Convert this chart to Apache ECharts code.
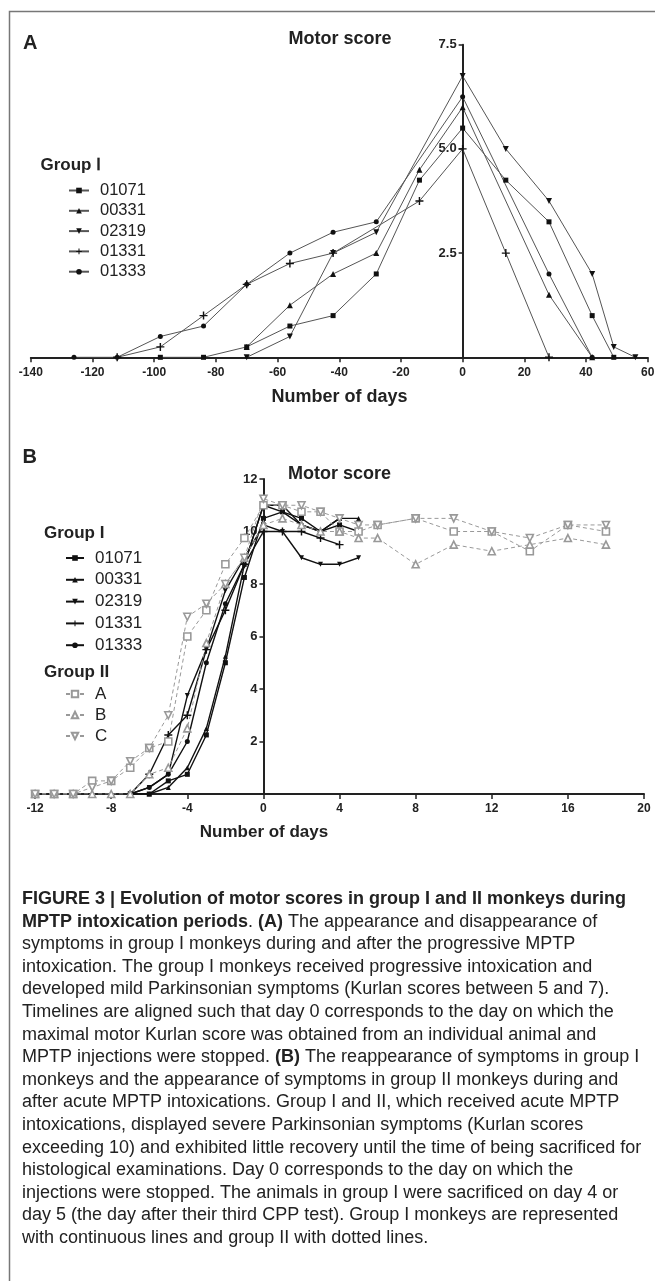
<!DOCTYPE html>
<html lang="en">
<head>
<meta charset="UTF-8">
<title>Motor score</title>
<script src="https://cdn.jsdelivr.net/npm/echarts@6/dist/echarts.min.js"></script>
<style>
  html, body { margin: 0; padding: 0; background: #fff; }
  #main { width: 655px; height: 1281px; }
</style>
</head>
<body>
<div id="main"></div>
<script>
// ---- panel A: progressive intoxication, group I (day 0 = max score)
const daysA_01071 = [-98, -84, -70, -56, -42, -28, -14, 0, 14, 28, 42, 49];
const scoreA_01071 = [0, 0, 0.25, 0.75, 1, 2, 4.25, 5.5, 4.25, 3.25, 1, 0];
const daysA_00331 = [-70, -56, -42, -28, -14, 0, 28, 42];
const scoreA_00331 = [0.25, 1.25, 2, 2.5, 4.5, 6, 1.5, 0];
const daysA_02319 = [-70, -56, -42, -28, 0, 14, 28, 42, 49, 56];
const scoreA_02319 = [0, 0.5, 2.5, 3, 6.75, 5, 3.75, 2, 0.25, 0];
const daysA_01331 = [-112, -98, -84, -70, -56, -42, -14, 0, 14, 28];
const scoreA_01331 = [0, 0.25, 1, 1.75, 2.25, 2.5, 3.75, 5, 2.5, 0];
const daysA_01333 = [-126, -112, -98, -84, -70, -56, -42, -28, 0, 28, 42];
const scoreA_01333 = [0, 0, 0.5, 0.75, 1.75, 2.5, 3, 3.25, 6.25, 2, 0];

// ---- panel B: acute intoxication (day 0 = last injection)
const daysB1 = [-7, -6, -5, -4, -3, -2, -1, 0, 1, 2, 3, 4, 5];
const daysB1short = [-7, -6, -5, -4, -3, -2, -1, 0, 1, 2, 3, 4];
const scoreB_01071 = [0, 0, 0.5, 0.75, 2.25, 5, 8.25, 10.5, 10.75, 10.5, 10, 10.25, 10];
const scoreB_00331 = [0, 0, 0.25, 1, 2.5, 5.25, 8.75, 11, 11, 10.25, 10, 10.5, 10.5];
const scoreB_02319 = [0, 0.25, 0.75, 3.75, 5.5, 7.75, 9, 10.25, 10, 9, 8.75, 8.75, 9];
const scoreB_01331 = [0, 0.75, 2.25, 3, 5.5, 7, 8.75, 10, 10, 10, 9.75, 9.5];
const scoreB_01333 = [0, 0.25, 0.75, 2, 5, 7.25, 8.75, 11, 10.75, 10.25, 10, 10.5];

const daysB2 = [-12, -11, -10, -9, -8, -7, -6, -5, -4, -3, -2, -1, 0, 1, 2, 3, 4, 5, 6, 8, 10, 12, 14, 16, 18];
const scoreB_A = [0, 0, 0, 0.5, 0.5, 1, 1.75, 2, 6, 7, 8.75, 9.75, 11, 11, 10.75, 10.75, 10, 10, 10.25, 10.5, 10, 10, 9.25, 10.25, 10];
const scoreB_B = [0, 0, 0, 0, 0, 0, 0.75, 1, 2.5, 5.75, 8, 9, 10.25, 10.5, 10.25, 10, 10, 9.75, 9.75, 8.75, 9.5, 9.25, 9.5, 9.75, 9.5];
const scoreB_C = [0, 0, 0, 0.25, 0.5, 1.25, 1.75, 3, 6.75, 7.25, 8, 9, 11.25, 11, 11, 10.75, 10.5, 10.25, 10.25, 10.5, 10.5, 10, 9.75, 10.25, 10.25];

const groupI = ['01071', '00331', '02319', '01331', '01333'];
const groupII = ['A', 'B', 'C'];

const captionLines = [
  '{b|FIGURE 3 | Evolution of motor scores in group I and II monkeys during}',
  '{b|MPTP intoxication periods}. {b|(A)} The appearance and disappearance of',
  'symptoms in group I monkeys during and after the progressive MPTP',
  'intoxication. The group I monkeys received progressive intoxication and',
  'developed mild Parkinsonian symptoms (Kurlan scores between 5 and 7).',
  'Timelines are aligned such that day 0 corresponds to the day on which the',
  'maximal motor Kurlan score was obtained from an individual animal and',
  'MPTP injections were stopped. {b|(B)} The reappearance of symptoms in group I',
  'monkeys and the appearance of symptoms in group II monkeys during and',
  'after acute MPTP intoxications. Group I and II, which received acute MPTP',
  'intoxications, displayed severe Parkinsonian symptoms (Kurlan scores',
  'exceeding 10) and exhibited little recovery until the time of being sacrificed for',
  'histological examinations. Day 0 corresponds to the day on which the',
  'injections were stopped. The animals in group I were sacrificed on day 4 or',
  'day 5 (the day after their third CPP test). Group I monkeys are represented',
  'with continuous lines and group II with dotted lines.'
];

const FONT = 'Liberation Sans, Arial, Helvetica, sans-serif';
const INK = '#222';
const TRI_DOWN = 'path://M0,0L10,0L5,10Z';
const CROSS = 'path://M4.1,0H5.9V4.1H10V5.9H5.9V10H4.1V5.9H0V4.1H4.1Z';

// grid boxes
const gridA = { left: 30.8, top: 44.7, width: 616.9, height: 312.6 };
const gridB = { left: 35.1, top: 479, width: 608.9, height: 315 };

function zip(xs, ys) {
  return xs.map((x, i) => [x, ys[i]]);
}

const chart = echarts.init(document.getElementById('main'), null, { renderer: 'canvas' });

function xAxisOpt(grid, min, max, interval) {
  return {
    gridIndex: grid, type: 'value', min: min, max: max, interval: interval,
    axisLine: { onZero: false, lineStyle: { color: INK, width: 2 } },
    axisTick: { length: 5, lineStyle: { color: INK, width: 1.5 } },
    axisLabel: { color: INK, fontFamily: FONT, fontWeight: 'bold', fontSize: 12, margin: 9 },
    splitLine: { show: false }
  };
}

// y axis sits on day 0, so shift it from the grid's left edge
function yAxisOpt(grid, g, xmin, xmax, max, interval, digits) {
  const shift = (0 - xmin) / (xmax - xmin) * g.width;
  return {
    gridIndex: grid, type: 'value', min: 0, max: max, interval: interval,
    position: 'left', offset: -shift,
    axisLine: { show: true, onZero: false, lineStyle: { color: INK, width: 2 } },
    axisTick: { show: true, length: 4, lineStyle: { color: INK, width: 1.5 } },
    axisLabel: {
      color: INK, fontFamily: FONT, fontWeight: 'bold', fontSize: 13, margin: 6,
      formatter: v => v === 0 ? '' : v.toFixed(digits)
    },
    splitLine: { show: false }
  };
}

// panel A series: gray thin lines, black markers
function seriesA(name, days, scores, symbol, size) {
  return {
    name: name, type: 'line', xAxisIndex: 0, yAxisIndex: 0,
    data: zip(days, scores), symbol: symbol, symbolSize: size,
    lineStyle: { color: '#555', width: 1 },
    itemStyle: { color: '#111' },
    emphasis: { disabled: true }
  };
}

// panel B group I: black solid
function seriesB1(name, days, scores, symbol, size) {
  return {
    name: 'B-' + name, type: 'line', xAxisIndex: 1, yAxisIndex: 1,
    data: zip(days, scores), symbol: symbol, symbolSize: size,
    lineStyle: { color: '#111', width: 1.4 },
    itemStyle: { color: '#111' },
    emphasis: { disabled: true }
  };
}

// panel B group II: gray dashed, hollow markers
function seriesB2(name, scores, symbol, size) {
  return {
    name: name, type: 'line', xAxisIndex: 1, yAxisIndex: 1,
    data: zip(daysB2, scores), symbol: symbol, symbolSize: size,
    lineStyle: { color: '#999', width: 1, type: [4, 3] },
    itemStyle: { color: '#fff', borderColor: '#999', borderWidth: 1.6 },
    emphasis: { disabled: true }
  };
}

const textEl = (x, y, text, size, weight, align) => ({
  type: 'text', x: x, y: y,
  style: {
    text: text, fill: INK, font: weight + ' ' + size + 'px ' + FONT,
    textAlign: align || 'left', textVerticalAlign: 'middle'
  }
});

const graphics = [
  { type: 'polyline', shape: { points: [[9.5, 1281], [9.5, 11.5], [655, 11.5]] },
    style: { stroke: '#777', lineWidth: 1.5, fill: null } },
  textEl(23, 43, 'A', 20, 'bold'),
  textEl(340, 39, 'Motor score', 18, 'bold', 'center'),
  textEl(339.5, 397, 'Number of days', 18, 'bold', 'center'),
  textEl(40.5, 165, 'Group \u2160', 17, 'bold'),
  textEl(22.5, 457, 'B', 20, 'bold'),
  textEl(339.5, 474, 'Motor score', 18, 'bold', 'center'),
  textEl(264, 832, 'Number of days', 17, 'bold', 'center'),
  textEl(44, 533, 'Group I', 17, 'bold'),
  textEl(44, 672, 'Group II', 17, 'bold')
];

captionLines.forEach((line, i) => {
  graphics.push({
    type: 'text', x: 22, y: 899 + i * 22.6,
    style: {
      text: line, fill: '#222', font: 'normal 18px ' + FONT,
      textVerticalAlign: 'middle',
      rich: {
        b: { fontWeight: 'bold', fontSize: 18, fontFamily: FONT, fill: '#222' }
      }
    }
  });
});

const legendBase = {
  orient: 'vertical', selectedMode: false,
  textStyle: { color: INK, fontFamily: FONT, padding: [0, 0, 0, 6] }
};

const option = {
  animation: false,
  backgroundColor: '#fff',
  grid: [
    Object.assign({ outerBoundsMode: 'none' }, gridA),
    Object.assign({ outerBoundsMode: 'none' }, gridB)
  ],
  xAxis: [
    xAxisOpt(0, -140, 60, 20),
    xAxisOpt(1, -12, 20, 4)
  ],
  yAxis: [
    yAxisOpt(0, gridA, -140, 60, 7.5, 2.5, 1),
    yAxisOpt(1, gridB, -12, 20, 12, 2, 0)
  ],
  legend: [
    Object.assign({}, legendBase, {
      left: 63, top: 177, itemWidth: 20, itemHeight: 7, itemGap: 3.3,
      textStyle: Object.assign({}, legendBase.textStyle, { fontSize: 16.5 }),
      data: groupI
    }),
    Object.assign({}, legendBase, {
      left: 60, top: 544.5, itemWidth: 18, itemHeight: 7, itemGap: 4.8,
      textStyle: Object.assign({}, legendBase.textStyle, { fontSize: 17 }),
      formatter: n => n.replace('B-', ''),
      data: groupI.map(n => 'B-' + n)
    }),
    Object.assign({}, legendBase, {
      left: 60, top: 680.5, itemWidth: 18, itemHeight: 8, itemGap: 4,
      textStyle: Object.assign({}, legendBase.textStyle, { fontSize: 17 }),
      data: groupII
    })
  ],
  graphic: graphics,
  series: [
    seriesA('01071', daysA_01071, scoreA_01071, 'rect', 5),
    seriesA('00331', daysA_00331, scoreA_00331, 'triangle', 6),
    seriesA('02319', daysA_02319, scoreA_02319, TRI_DOWN, 6),
    seriesA('01331', daysA_01331, scoreA_01331, CROSS, 8),
    seriesA('01333', daysA_01333, scoreA_01333, 'circle', 5),
    seriesB1('01071', daysB1, scoreB_01071, 'rect', 5),
    seriesB1('00331', daysB1, scoreB_00331, 'triangle', 5),
    seriesB1('02319', daysB1, scoreB_02319, TRI_DOWN, 5),
    seriesB1('01331', daysB1short, scoreB_01331, CROSS, 8),
    seriesB1('01333', daysB1short, scoreB_01333, 'circle', 5),
    seriesB2('A', scoreB_A, 'rect', 7),
    seriesB2('B', scoreB_B, 'triangle', 7),
    seriesB2('C', scoreB_C, TRI_DOWN, 7)
  ]
};

chart.setOption(option);

window.addEventListener('resize', () => {
  chart.resize();
});
</script>
</body>
</html>
